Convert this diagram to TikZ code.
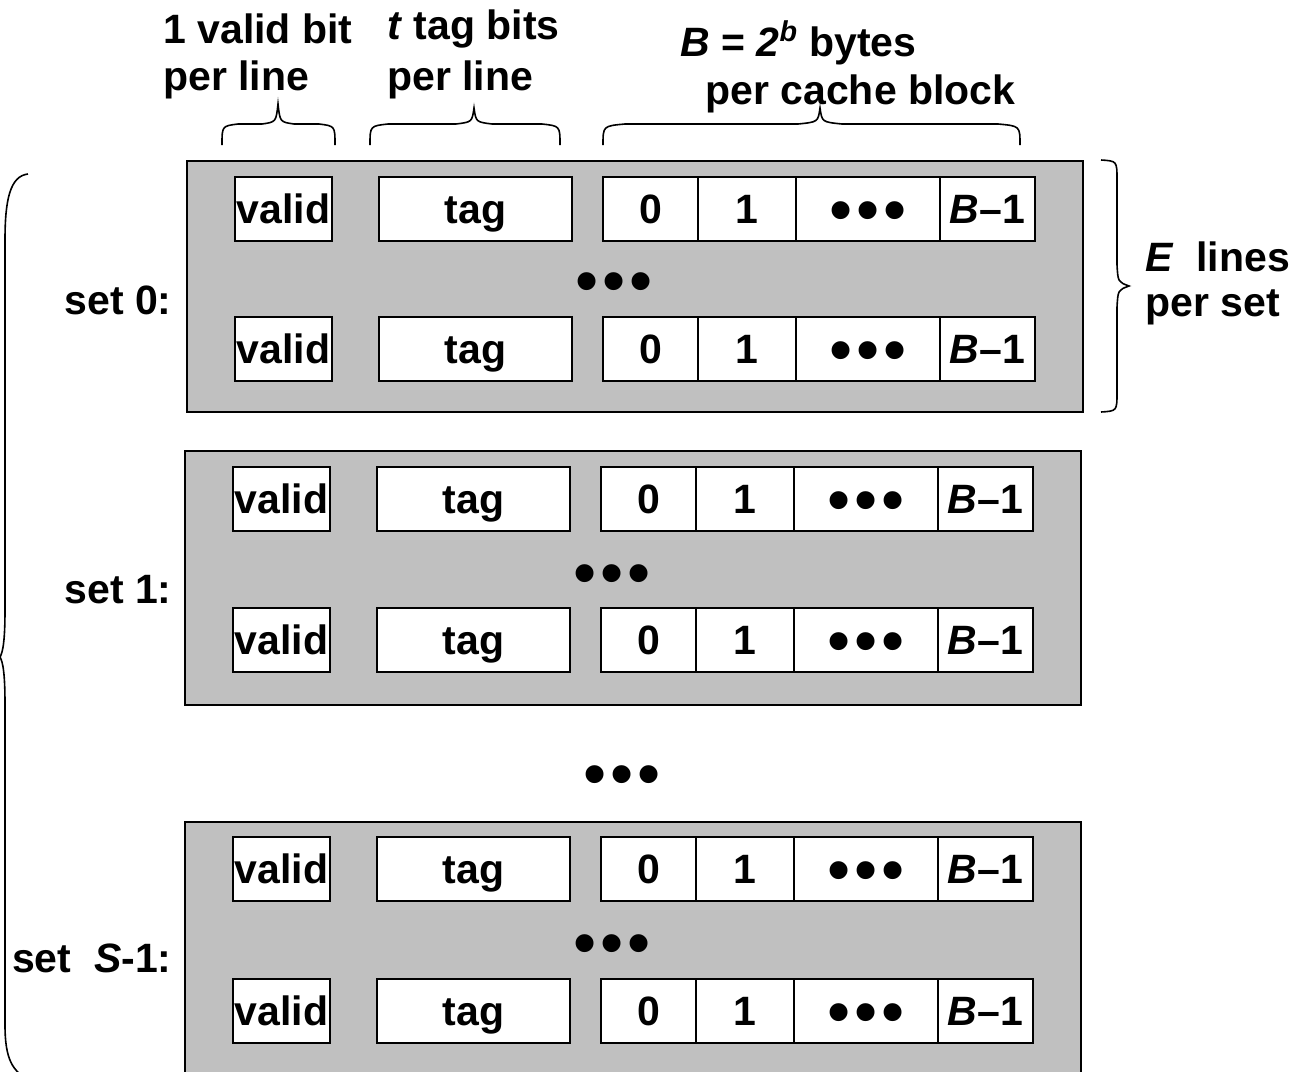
\documentclass[tikz,border=0pt]{standalone}
\usepackage{fontspec}
\setmainfont{Liberation Sans}
\definecolor{setgray}{HTML}{C0C0C0}
\newcommand\tdots{{\fontsize{33}{33}\selectfont\mdseries •\kern2pt•\kern2pt•}}
\newcommand\cacheline[3]{%
  \node[cell, minimum width=48.5pt] (#1v) at (283.5+#2,#3) {valid};
  \node[cell, minimum width=96.5pt] (#1t) at (475.5+#2,#3) {tag};
  \node[cell, minimum width=47.5pt] (#1a) at (650.5+#2,#3) {0};
  \node[cell, minimum width=49pt]   (#1b) at (747+#2,#3) {1};
  \node[cell, minimum width=72pt]   (#1c) at (868+#2,#3) {};
  \node[dotlbl] (#1e) at (#1c.center) {\tdots};
  \node[cell, minimum width=47.5pt] (#1d) at (987.5+#2,#3) {\textit{B}–1};
}
\begin{document}
\begin{tikzpicture}[x=0.5pt,y=-0.5pt,
  lbl/.style={font=\bfseries\fontsize{20.5}{24}\selectfont, inner sep=0},
  cell/.style={draw, fill=white, line width=1pt, minimum height=32pt, inner sep=0,
    text height=14.7pt, text depth=0pt,
    font=\bfseries\fontsize{20.5}{24}\selectfont},
  setbox/.style={draw, fill=setgray, line width=1pt, inner sep=0},
  dotlbl/.style={inner sep=0, text height=23pt, text depth=0pt},
  brace/.style={line width=0.8pt}]
\useasboundingbox (0,0) rectangle (1309,1071);
\clip (0,0) rectangle (1309,1071);
% top labels
\node[lbl, anchor=west] (l1a) at (163,29) {1 valid bit};
\node[lbl, anchor=west] (l1b) at (163,80) {per line};
\node[lbl, anchor=west] (l2a) at (387,29) {\textit{t} tag bits};
\node[lbl, anchor=west] (l2b) at (387,80) {per line};
\node[lbl, anchor=west] (l3a) at (680,43) {\textit{B} = \textit{2\textsuperscript{b}} bytes};
\node[lbl, anchor=west] (l3b) at (705,94) {per cache block};
% top braces
\draw[brace] (222,145) .. controls (222,126) .. (238,124) -- (262,124) .. controls (276,122) .. (278,104)
  .. controls (280,122) .. (294,124) -- (319,124) .. controls (335,126) .. (335,145);
\draw[brace] (370,145) .. controls (370,126) .. (388,124) -- (456,124) .. controls (472,122) .. (474,108)
  .. controls (476,122) .. (492,124) -- (542,124) .. controls (560,126) .. (560,145);
\draw[brace] (603,145) .. controls (603,126) .. (625,124) -- (798,124) .. controls (818,122) .. (820,108)
  .. controls (822,122) .. (842,124) -- (998,124) .. controls (1020,126) .. (1020,145);
% right brace
\draw[brace] (1101,160) .. controls (1117,161) .. (1117,180) -- (1117,265) .. controls (1118,282) .. (1129,286)
  .. controls (1118,290) .. (1117,307) -- (1117,392) .. controls (1117,411) .. (1101,412);
\node[lbl, anchor=west] (e1) at (1145,257) {\textit{E}\ \ lines};
\node[lbl, anchor=west] (e2) at (1145,307) {per set};
% left brace
\draw[brace] (28,174) .. controls (10,176) and (5,200) .. (5,240) -- (5,610)
  .. controls (5,640) and (3,652) .. (0,657) .. controls (3,662) and (5,674) .. (5,704)
  -- (5,1025) .. controls (5,1058) and (12,1072) .. (30,1080);
% sets
\node[setbox, minimum width=448pt, minimum height=125.5pt] (set0) at (635,286.5) {};
\node[setbox, minimum width=448pt, minimum height=127pt] (set1) at (633,578) {};
\node[setbox, minimum width=448pt, minimum height=134pt] (setS) at (633,956) {};
\cacheline{sa}{0}{209}
\cacheline{sb}{0}{349}
\cacheline{sc}{-2}{499}
\cacheline{sd}{-2}{640}
\cacheline{se}{-2}{869}
\cacheline{sf}{-2}{1011}
\node[dotlbl] (d0) at (614,280) {\tdots};
\node[dotlbl] (d1) at (612,572) {\tdots};
\node[dotlbl] (dm) at (622,773) {\tdots};
\node[dotlbl] (d2) at (612,942) {\tdots};
% set labels
\node[lbl, anchor=east] (n0) at (172,300) {set 0:};
\node[lbl, anchor=east] (n1) at (172,590) {set 1:};
\node[lbl, anchor=east] (n2) at (172,958) {set\ \ \textit{S}-1:};
\end{tikzpicture}
\end{document}
